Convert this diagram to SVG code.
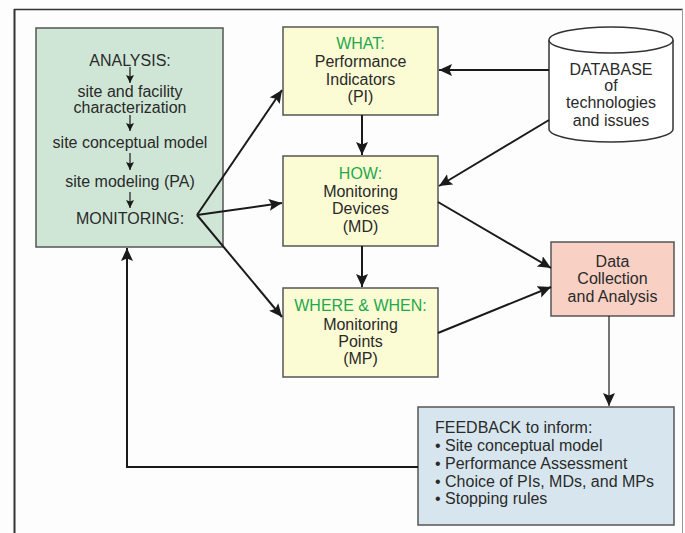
<svg xmlns="http://www.w3.org/2000/svg" width="685" height="533" viewBox="0 0 685 533">
  <style>
    .box { stroke: #555; stroke-width: 1.5; }
    .analysis { fill: #cfe6d6; }
    .step { fill: #fcfcd4; }
    .data { fill: #f9d0c4; }
    .feedback { fill: #d7e6ee; }
    .db { fill: #ffffff; stroke: #333; stroke-width: 1.5; }
    text { font-family: "Liberation Sans", Arial, sans-serif; font-size: 16px; fill: #2a2a2a; }
    .c { text-anchor: middle; }
    .g { fill: #1fa84c; }
    .conn { stroke: #1a1a1a; stroke-width: 2; fill: none; }
    .thin { stroke: #1a1a1a; stroke-width: 1.2; fill: none; }
  </style>
  <defs>
    <marker id="ah" markerUnits="userSpaceOnUse" markerWidth="16" markerHeight="14" refX="13" refY="6" orient="auto">
      <path d="M0,0 L13,6 L0,12 L2.5,6 z" fill="#1a1a1a"/>
    </marker>
    <marker id="ahs" markerUnits="userSpaceOnUse" markerWidth="10" markerHeight="10" refX="8" refY="4" orient="auto">
      <path d="M0,0 L8,4 L0,8 L1.5,4 z" fill="#1a1a1a"/>
    </marker>
  </defs>

  <rect width="685" height="533" fill="#fdfdfd"/>

  <!-- outer frame -->
  <g id="frame">
    <line x1="14" y1="9.5" x2="683" y2="9.5" stroke="#333" stroke-width="1.5"/>
    <line x1="14.5" y1="9" x2="14.5" y2="533" stroke="#333" stroke-width="2"/>
    <line x1="682.5" y1="9" x2="682.5" y2="533" stroke="#999" stroke-width="1"/>
  </g>

  <!-- analysis chain -->
  <g id="analysis">
    <rect class="box analysis" x="36" y="28" width="187" height="219"/>
    <text class="c" x="130" y="66">ANALYSIS:</text>
    <line class="thin" x1="130" y1="67" x2="130" y2="83" marker-end="url(#ahs)"/>
    <text class="c" x="130" y="97">site and facility</text>
    <text class="c" x="130" y="113">characterization</text>
    <line class="thin" x1="130" y1="115" x2="130" y2="131" marker-end="url(#ahs)"/>
    <text class="c" x="130" y="148">site conceptual model</text>
    <line class="thin" x1="130" y1="153" x2="130" y2="170" marker-end="url(#ahs)"/>
    <text class="c" x="130" y="187">site modeling (PA)</text>
    <line class="thin" x1="130" y1="192" x2="130" y2="208" marker-end="url(#ahs)"/>
    <text class="c" x="130" y="224">MONITORING:</text>
  </g>

  <g id="what">
    <rect class="box step" x="283" y="27" width="155" height="88"/>
    <text class="c g" x="360.5" y="49">WHAT:</text>
    <text class="c" x="360.5" y="67">Performance</text>
    <text class="c" x="360.5" y="85">Indicators</text>
    <text class="c" x="360.5" y="102">(PI)</text>
  </g>

  <g id="how">
    <rect class="box step" x="283" y="156" width="155" height="90"/>
    <text class="c g" x="360.5" y="179">HOW:</text>
    <text class="c" x="360.5" y="197">Monitoring</text>
    <text class="c" x="360.5" y="214">Devices</text>
    <text class="c" x="360.5" y="232">(MD)</text>
  </g>

  <g id="where">
    <rect class="box step" x="283" y="288" width="155" height="89"/>
    <text class="c g" x="360.5" y="311">WHERE &amp; WHEN:</text>
    <text class="c" x="360.5" y="330">Monitoring</text>
    <text class="c" x="360.5" y="347">Points</text>
    <text class="c" x="360.5" y="364">(MP)</text>
  </g>

  <g id="database">
    <path class="db" d="M549,40 L549,129 A62,13 0 0 0 673,129 L673,40"/>
    <ellipse class="db" cx="611" cy="40" rx="62" ry="13"/>
    <text class="c" x="611" y="75">DATABASE</text>
    <text class="c" x="611" y="91">of</text>
    <text class="c" x="611" y="108">technologies</text>
    <text class="c" x="611" y="126">and issues</text>
  </g>

  <g id="data">
    <rect class="box data" x="551" y="242" width="123" height="74"/>
    <text class="c" x="612.5" y="267">Data</text>
    <text class="c" x="612.5" y="284">Collection</text>
    <text class="c" x="612.5" y="302">and Analysis</text>
  </g>

  <g id="feedback">
    <rect class="box feedback" x="418" y="407" width="256" height="118"/>
    <text x="435" y="433">FEEDBACK to inform:</text>
    <text x="435" y="451">• Site conceptual model</text>
    <text x="435" y="469">• Performance Assessment</text>
    <text x="435" y="487">• Choice of PIs, MDs, and MPs</text>
    <text x="435" y="504">• Stopping rules</text>
  </g>

  <g id="connectors">
    <line class="conn" x1="197" y1="215" x2="282" y2="90" marker-end="url(#ah)"/>
    <line class="conn" x1="197" y1="215" x2="282" y2="203" marker-end="url(#ah)"/>
    <line class="conn" x1="197" y1="215" x2="282" y2="317" marker-end="url(#ah)"/>
    <line class="conn" x1="362" y1="115" x2="362" y2="155" marker-end="url(#ah)"/>
    <line class="conn" x1="362" y1="246" x2="362" y2="287" marker-end="url(#ah)"/>
    <line class="conn" x1="549" y1="70" x2="439" y2="70" marker-end="url(#ah)"/>
    <line class="conn" x1="549" y1="120" x2="439" y2="186" marker-end="url(#ah)"/>
    <line class="conn" x1="438" y1="202" x2="551" y2="268" marker-end="url(#ah)"/>
    <line class="conn" x1="438" y1="333" x2="551" y2="287" marker-end="url(#ah)"/>
    <line class="thin" x1="609" y1="316" x2="609" y2="406" marker-end="url(#ah)"/>
    <polyline class="conn" points="418,467 127,467 127,248" marker-end="url(#ah)"/>
  </g>
</svg>
